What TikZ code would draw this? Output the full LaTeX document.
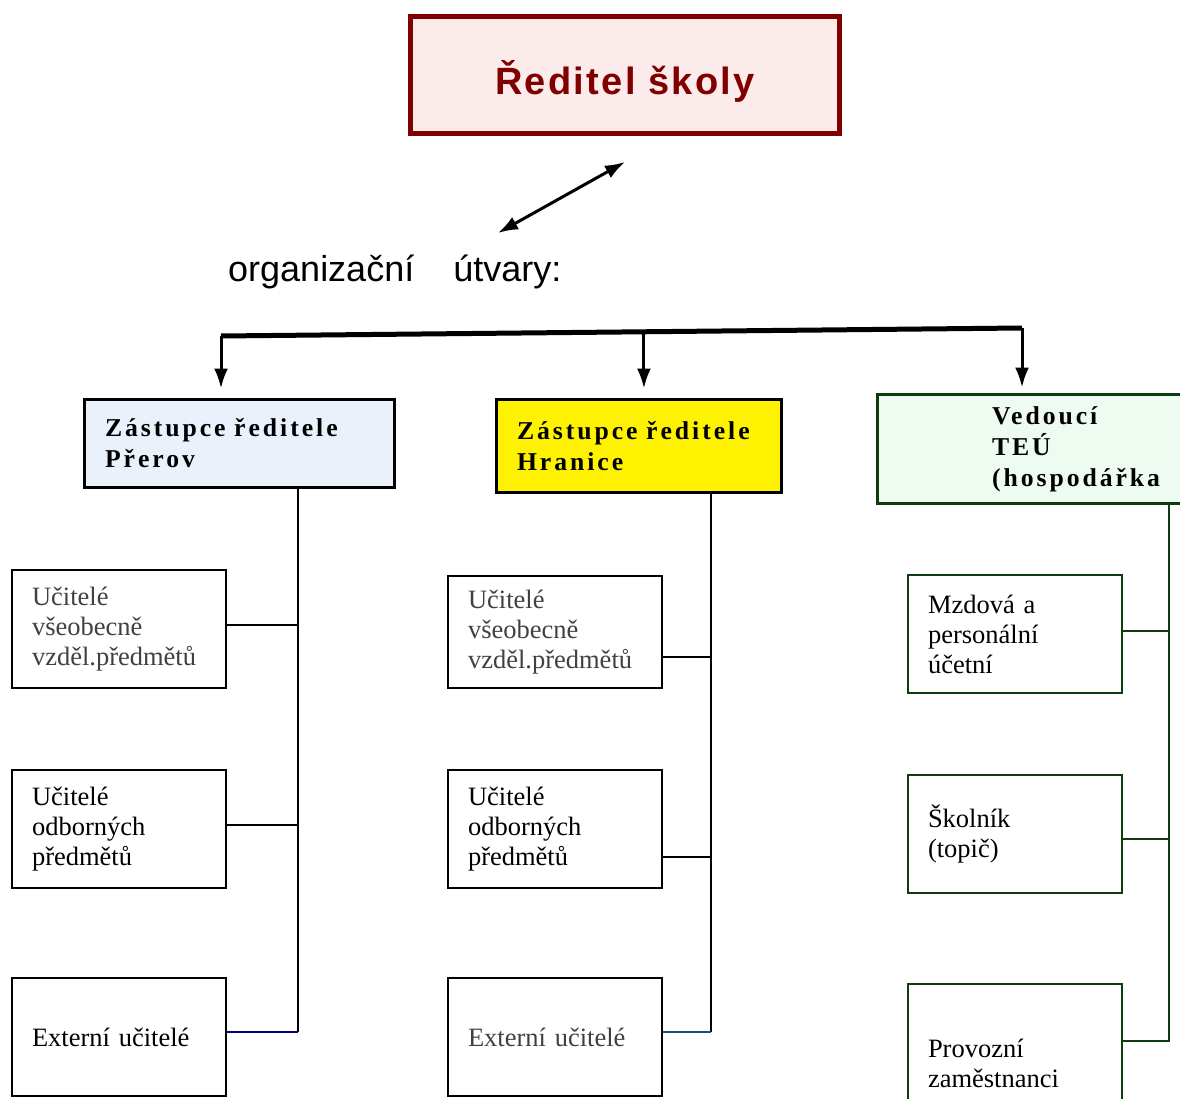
\documentclass[tikz,border=0pt]{standalone}
\usepackage{fontspec}
\setmainfont{Liberation Serif}
\newfontfamily\sansfont{Liberation Sans}
\newfontfamily\titlefont[LetterSpace=6]{Liberation Sans}
\newfontfamily\headfont[LetterSpace=11.5, WordSpace=1.4]{Liberation Serif}
\usetikzlibrary{positioning, calc}
\usetikzlibrary{arrows, arrows.meta}
\tikzset{>={Latex[length=20pt, width=14pt]}}
\definecolor{mydarkred}{RGB}{128,0,0}
\definecolor{mypink}{RGB}{252,235,235}
\definecolor{myblue}{RGB}{234,241,251}
\definecolor{mygreen}{RGB}{238,251,241}
\definecolor{mydarkgreen}{RGB}{15,60,15}
\definecolor{mygrey}{RGB}{64,64,64}
\definecolor{mynavy}{RGB}{0,0,128}
\definecolor{mysteel}{RGB}{31,78,121}
\tikzset{
  headbox/.style={draw, line width=3pt, minimum height=88pt, inner xsep=20.5pt, align=left, font=\headfont\bfseries\fontsize{25.7}{31}\selectfont},
  unitbox/.style={draw, line width=2pt, minimum height=118pt, text width=174pt, inner xsep=20pt, align=left, font=\fontsize{26.5}{30}\selectfont},
  branch/.style={line width=2pt}
}

\begin{document}
\begin{tikzpicture}[x=1pt, y=-1pt]
  \clip (0,0) rectangle (1180,1099);
  \node[draw=mydarkred, line width=5pt, fill=mypink, minimum width=429pt, minimum height=117pt, text=mydarkred, text height=40pt, text depth=0pt, font=\titlefont\bfseries\fontsize{38}{44}\selectfont] (head) at (625,75) {Ředitel školy};
  \node[anchor=base west, inner sep=0, font=\sansfont\fontsize{36}{42}\selectfont] (units) at (228,282) {organizační\hspace{39pt}útvary:};
  \coordinate (arrA) at (498,233);
  \coordinate (arrB) at (625,162);
  \draw[<->, line width=3pt] (arrA) -- (arrB);

  \node[headbox, fill=myblue, text width=269pt] (zprerov) at (239.5,443.5) {Zástupce ředitele\\Přerov};
  \node[headbox, fill=yellow, text width=244pt, minimum height=93pt] (zhranice) at (639,446) {Zástupce ředitele\\Hranice};
  \node[headbox, draw=mydarkgreen, fill=mygreen, text width=195pt, inner xsep=114.5pt, minimum height=109pt] (vteu) at (1089.5,449) {Vedoucí\\TEÚ\\(hospodářka};

  \coordinate (barL) at (221,336);
  \coordinate (barR) at (1022,328);
  \coordinate (barM) at ($(barL)!0.528!(barR)$);
  \draw[line width=5pt] (barL) -- (barR);
  \draw[->, line width=3pt, shorten >=9.5pt] (barL) -- (barL |- zprerov.north);
  \draw[->, line width=3pt, shorten >=9.5pt] (barM) -- (barM |- zhranice.north);
  \draw[->, line width=3pt, shorten >=5.5pt] (barR) -- (barR |- vteu.north);

  \node[unitbox, text=mygrey] (pvseob) at (119,629) {Učitelé\\všeobecně\\vzděl.předmětů};
  \node[unitbox] (podb) at (119,829) {Učitelé\\odborných\\předmětů};
  \node[unitbox] (pext) at (119,1037) {Externí učitelé};
  \node[unitbox, text=mygrey, minimum height=112pt] (hvseob) at (555,632) {Učitelé\\všeobecně\\vzděl.předmětů};
  \node[unitbox] (hodb) at (555,829) {Učitelé\\odborných\\předmětů};
  \node[unitbox, text=mygrey] (hext) at (555,1037) {Externí učitelé};
  \node[unitbox, draw=mydarkgreen] (mzdova) at (1015,634) {Mzdová a\\personální\\účetní};
  \node[unitbox, draw=mydarkgreen] (skolnik) at (1015,834) {Školník\\(topič)};
  \node[unitbox, draw=mydarkgreen, minimum height=158pt] (provozni) at (1015,1063) {Provozní\\zaměstnanci};

  \coordinate (trunkP) at (298,0);
  \coordinate (trunkH) at (711,0);
  \coordinate (trunkV) at (1169,0);
  \draw[branch] (zprerov.south -| trunkP) -- ([yshift=5pt]pext.east -| trunkP);
  \draw[branch] ([yshift=4pt]pvseob.east) -- ([yshift=4pt]pvseob.east -| trunkP);
  \draw[branch] ([yshift=4pt]podb.east) -- ([yshift=4pt]podb.east -| trunkP);
  \draw[branch, mynavy] ([yshift=5pt]pext.east) -- ([yshift=5pt]pext.east -| trunkP);

  \draw[branch] (zhranice.south -| trunkH) -- ([yshift=5pt]hext.east -| trunkH);
  \draw[branch] ([yshift=-25pt]hvseob.east) -- ([yshift=-25pt]hvseob.east -| trunkH);
  \draw[branch] ([yshift=-28pt]hodb.east) -- ([yshift=-28pt]hodb.east -| trunkH);
  \draw[branch, mysteel] ([yshift=5pt]hext.east) -- ([yshift=5pt]hext.east -| trunkH);

  \draw[branch, mydarkgreen] (vteu.south -| trunkV) |- ([yshift=22pt]provozni.east);
  \draw[branch, mydarkgreen] ([yshift=3pt]mzdova.east) -- ([yshift=3pt]mzdova.east -| trunkV);
  \draw[branch, mydarkgreen] ([yshift=-5pt]skolnik.east) -- ([yshift=-5pt]skolnik.east -| trunkV);
\end{tikzpicture}
\end{document}
